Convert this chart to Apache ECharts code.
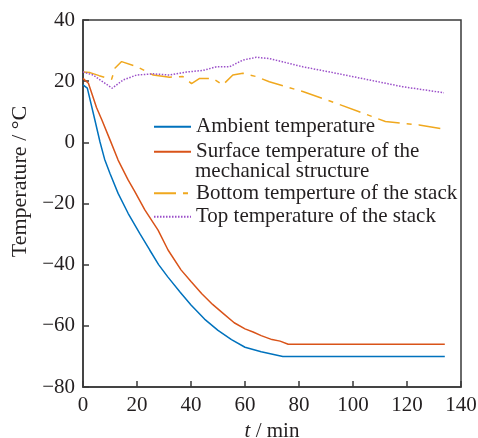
<!DOCTYPE html>
<html>
<head>
<meta charset="utf-8">
<script src="https://cdn.jsdelivr.net/npm/echarts@6/dist/echarts.min.js"></script>
<style>
  html, body { margin: 0; padding: 0; background: #fff; }
  #main { width: 478px; height: 438px; }
</style>
</head>
<body>
<div id="main"></div>
<script>
// ambient temperature
var ambientT = [0, 1.6, 4.4, 6.3, 8, 10, 13, 16.7, 21, 24.7, 28, 31.4, 36, 40, 45, 50, 55, 60, 66, 74, 134];
var ambientV = [18.8, 17.7, 7.3, 0.1, -5.5, -10.2, -16.7, -23.2, -29.8, -35.2, -40, -44, -49, -53.2, -57.8, -61.5, -64.5, -67, -68.5, -70, -70];
// surface temperature of the mechanical structure
var surfaceT = [0, 2, 5, 7, 10, 13, 16.7, 19.2, 22.9, 27.8, 31.5, 36.3, 40, 44, 48, 52, 56, 60, 63, 66, 70, 73, 76, 134];
var surfaceV = [20.9, 19.3, 11.4, 7.3, 0.8, -5.8, -12.3, -16.1, -22.1, -28.7, -35.2, -41.7, -45.5, -49.5, -53, -56, -59, -61, -62, -63.2, -64.5, -65, -66, -66];
// bottom temperature of the stack
var bottomT = [0, 2.6, 6, 10.6, 11.8, 14.3, 19.8, 26, 32.1, 37, 40.2, 43.2, 48.1, 51.8, 55.5, 59.2, 64.2, 69, 81.4, 93.7, 102.3, 112, 124.5, 134];
var bottomV = [23, 22.8, 21.8, 20.6, 24.2, 26.4, 24.8, 22, 21.3, 21.5, 19.2, 20.9, 20.9, 18.8, 22, 22.6, 21.5, 19.8, 16.6, 12.8, 10, 6.8, 5.7, 4.3];
// top temperature of the stack
var topT = [0, 3.8, 7, 10.8, 14.9, 19.8, 26, 32.1, 38.3, 44.4, 49.4, 54.3, 59.2, 64.2, 69, 81.4, 93.7, 106, 118.3, 133.7];
var topV = [23, 22, 20, 17.7, 20.4, 22, 22.4, 22, 23, 23.5, 24.7, 24.7, 26.9, 27.8, 27.4, 24.7, 22.6, 20.4, 18.2, 16.2];

var seriesNames = ['Ambient temperature', 'Surface temperature of the mechanical structure',
                   'Bottom temperture of the stack', 'Top temperature of the stack'];
var xTicks = [0, 20, 40, 60, 80, 100, 120, 140];
var yTicks = [-80, -60, -40, -20, 0, 20, 40];

function pairs(t, v) {
  return t.map(function (x, i) { return [x, v[i]]; });
}

var font = 'Liberation Serif, Times New Roman, serif';
var textColor = '#231f20';
var axisColor = '#3a3a3a';
var chart = echarts.init(document.getElementById('main'));
chart.setOption({
  animation: false,
  textStyle: { fontFamily: font },
  grid: {
    left: 83, right: 17, top: 20, bottom: 51,
    outerBoundsMode: 'none',
    show: true, borderColor: axisColor, borderWidth: 1.5
  },
  legend: [{
    orient: 'vertical', left: 153, top: 115.7, padding: 0,
    itemWidth: 37, itemHeight: 14, itemGap: 3,
    itemStyle: { opacity: 0 },
    data: [seriesNames[0], seriesNames[1]],
    formatter: function (n) { return n === seriesNames[1] ? 'Surface temperature of the' : n; },
    textStyle: { fontFamily: font, fontSize: 21, color: textColor, lineHeight: 22 }
  }, {
    orient: 'vertical', left: 153, top: 182.3, padding: 0,
    itemWidth: 37, itemHeight: 14, itemGap: 1.4,
    itemStyle: { opacity: 0 },
    data: [seriesNames[2], seriesNames[3]],
    textStyle: { fontFamily: font, fontSize: 21, color: textColor, lineHeight: 22 }
  }],
  graphic: [{
    type: 'text', left: 195, top: 161,
    style: { text: 'mechanical structure', font: '21px ' + font, fill: textColor }
  }],
  xAxis: {
    type: 'value', min: 0, max: 140, interval: 20,
    name: '{i|t} / min', nameLocation: 'middle', nameGap: 33,
    nameTextStyle: {
      fontFamily: font, fontSize: 21, color: textColor,
      rich: { i: { fontFamily: font, fontSize: 21, fontStyle: 'italic', color: textColor } }
    },
    axisLine: { onZero: false, lineStyle: { color: axisColor, width: 1.5 } },
    axisTick: { inside: true, length: 6, lineStyle: { color: axisColor, width: 1.5 } },
    axisLabel: {
      fontFamily: font, fontSize: 21, color: textColor, margin: 8,
      formatter: function (v) { return xTicks.indexOf(v) >= 0 ? String(v) : ''; }
    },
    splitLine: { show: false }
  },
  yAxis: {
    type: 'value', min: -80, max: 40, interval: 20,
    name: 'Temperature / °C', nameLocation: 'middle', nameGap: 43, nameRotate: 90,
    nameTextStyle: { fontFamily: font, fontSize: 22, color: textColor, padding: [0, 0, 0, 44] },
    axisLine: { onZero: false, lineStyle: { color: axisColor, width: 1.5 } },
    axisTick: { inside: true, length: 6, lineStyle: { color: axisColor, width: 1.5 } },
    axisLabel: {
      fontFamily: font, fontSize: 21, color: textColor, margin: 8,
      formatter: function (v) {
        if (yTicks.indexOf(v) < 0) return '';
        return v < 0 ? '\u2212' + Math.abs(v) : String(v);
      }
    },
    splitLine: { show: false }
  },
  series: [{
    name: seriesNames[0], type: 'line', symbol: 'none',
    lineStyle: { color: '#0072BD', width: 1.5 }, itemStyle: { color: '#0072BD' },
    data: pairs(ambientT, ambientV)
  }, {
    name: seriesNames[1], type: 'line', symbol: 'none',
    lineStyle: { color: '#D95319', width: 1.5 }, itemStyle: { color: '#D95319' },
    data: pairs(surfaceT, surfaceV)
  }, {
    name: seriesNames[2], type: 'line', symbol: 'none',
    lineStyle: { color: '#F0A81E', width: 1.5, type: [22, 7, 5, 7] }, itemStyle: { color: '#F0A81E' },
    data: pairs(bottomT, bottomV)
  }, {
    name: seriesNames[3], type: 'line', symbol: 'none',
    lineStyle: { color: '#9B4FC9', width: 1.5, type: [1.5, 1.5] }, itemStyle: { color: '#9B4FC9' },
    data: pairs(topT, topV)
  }]
});
</script>
</body>
</html>
